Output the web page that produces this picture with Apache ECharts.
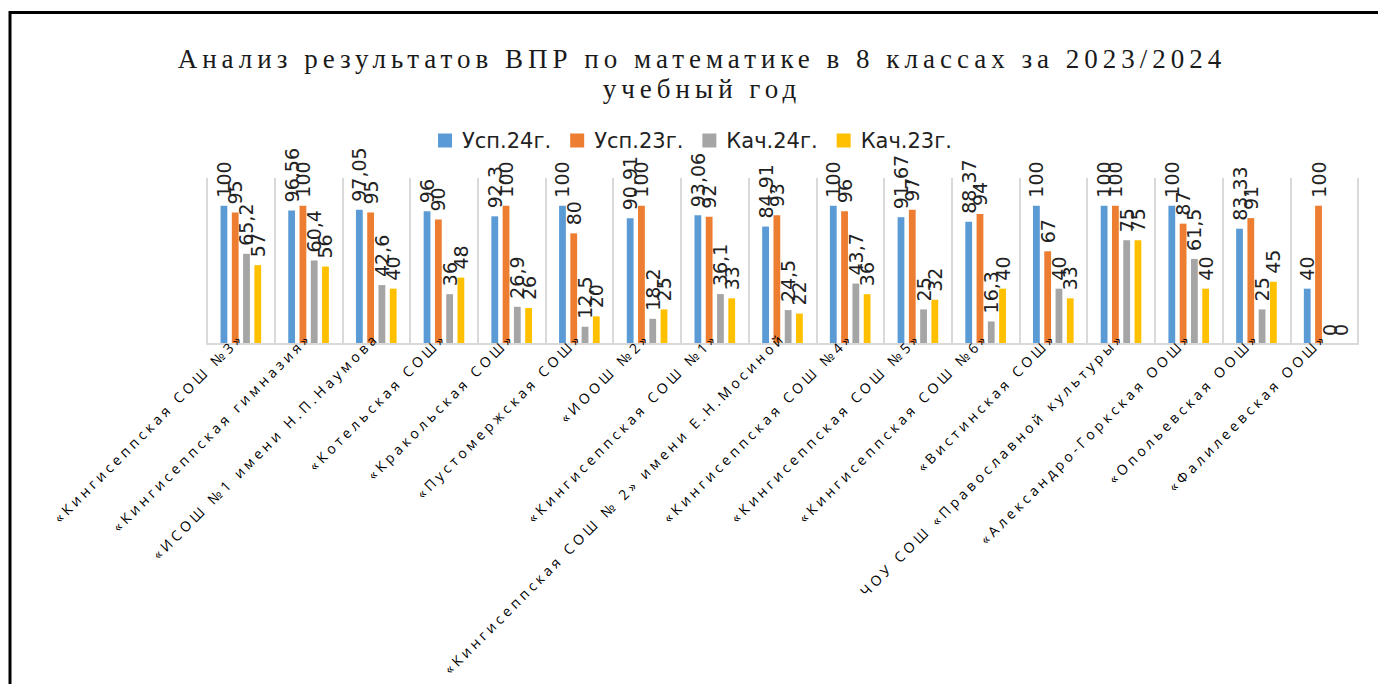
<!DOCTYPE html>
<html>
<head>
<meta charset="utf-8">
<script src="https://cdn.jsdelivr.net/npm/echarts@6/dist/echarts.min.js"></script>
<style>
  html, body { margin: 0; padding: 0; background: #fff; overflow: hidden; }
  #chart { width: 1378px; height: 684px; }
  /* wide letter spacing, like the original Excel chart */
  #chart text[style*="Liberation Serif"] { letter-spacing: 5px; }
  #chart text[style*="Open Sans"] { letter-spacing: 3.7px; }
</style>
</head>
<body>
<div id="chart"></div>
<script>
const schools = [
  '«Кингисеппская СОШ №3»',
  '«Кингисеппская гимназия»',
  '«ИСОШ №1 имени Н.П.Наумова',
  '«Котельская СОШ»',
  '«Кракольская СОШ»',
  '«Пустомержская СОШ»',
  '«ИООШ №2»',
  '«Кингисеппская СОШ №1»',
  '«Кингисеппская СОШ № 2» имени Е.Н.Мосиной',
  '«Кингисеппская СОШ №4»',
  '«Кингисеппская СОШ №5»',
  '«Кингисеппская СОШ №6»',
  '«Вистинская СОШ»',
  'ЧОУ СОШ «Православной культуры»',
  '«Александро-Горкская ООШ»',
  '«Опольевская ООШ»',
  '«Фалилеевская ООШ»'
];
const usp24 = [100, 96.56, 97.05, 96, 92.3, 100, 90.91, 93.06, 84.91, 100, 91.67, 88.37, 100, 100, 100, 83.33, 40];
const usp23 = [95, 100, 95, 90, 100, 80, 100, 92, 93, 96, 97, 94, 67, 100, 87, 91, 100];
const kach24 = [65.2, 60.4, 42.6, 36, 26.9, 12.5, 18.2, 36.1, 24.5, 43.7, 25, 16.3, 40, 75, 61.5, 25, 0];
const kach23 = [57, 56, 40, 48, 26, 20, 25, 33, 22, 36, 32, 40, 33, 75, 40, 45, 0];
const seriesNames = ['Усп.24г.', 'Усп.23г.', 'Кач.24г.', 'Кач.23г.'];
const colors = ['#5B9BD5', '#ED7D31', '#A5A5A5', '#FFC000'];

const chart = echarts.init(document.getElementById('chart'), null, { renderer: 'svg' });

function makeSeries(name, data) {
  return {
    name: name,
    type: 'bar',
    data: data,
    barGap: '66%',
    barCategoryGap: '40%',
    label: {
      show: true,
      position: 'top',
      rotate: 90,
      align: 'left',
      verticalAlign: 'middle',
      distance: 8,
      fontFamily: 'DejaVu Sans',
      fontSize: 19,
      color: '#222',
      formatter: p => String(p.value).replace('.', ',')
    }
  };
}

chart.setOption({
  animation: false,
  color: colors,
  title: {
    text: 'Анализ результатов ВПР по математике в 8 классах за 2023/2024\nучебный год',
    left: 702,
    textAlign: 'center',
    top: 44,
    padding: 0,
    textStyle: {
      fontFamily: 'Liberation Serif',
      fontSize: 27,
      fontWeight: 'normal',
      lineHeight: 30,
      color: '#1a1a1a'
    }
  },
  legend: {
    top: 130,
    left: 438,
    padding: 0,
    icon: 'rect',
    itemWidth: 14,
    itemHeight: 14,
    itemGap: 19,
    textStyle: {
      fontFamily: 'DejaVu Sans',
      fontSize: 21,
      color: '#222',
      padding: [0, 0, 0, 5]
    },
    data: seriesNames
  },
  grid: { left: 207, right: 20, top: 178, bottom: 340, containLabel: false },
  xAxis: {
    type: 'category',
    data: schools,
    z: 5,
    axisLine: { lineStyle: { color: '#D9D9D9', width: 2 } },
    axisTick: { show: false },
    splitLine: { show: true, lineStyle: { color: '#D9D9D9', width: 2 } },
    axisLabel: {
      interval: 0,
      rotate: 45,
      margin: -9,
      fontFamily: 'Open Sans',
      fontSize: 14,
      color: '#000'
    }
  },
  yAxis: {
    type: 'value',
    min: 0,
    max: 120,
    show: false
  },
  graphic: [{
    type: 'rect',
    shape: { x: 10, y: 12.5, width: 2000, height: 2000 },
    style: { fill: 'none', stroke: '#000', lineWidth: 3 },
    silent: true
  }],
  series: [
    makeSeries(seriesNames[0], usp24),
    makeSeries(seriesNames[1], usp23),
    makeSeries(seriesNames[2], kach24),
    makeSeries(seriesNames[3], kach23)
  ]
});
</script>
</body>
</html>
